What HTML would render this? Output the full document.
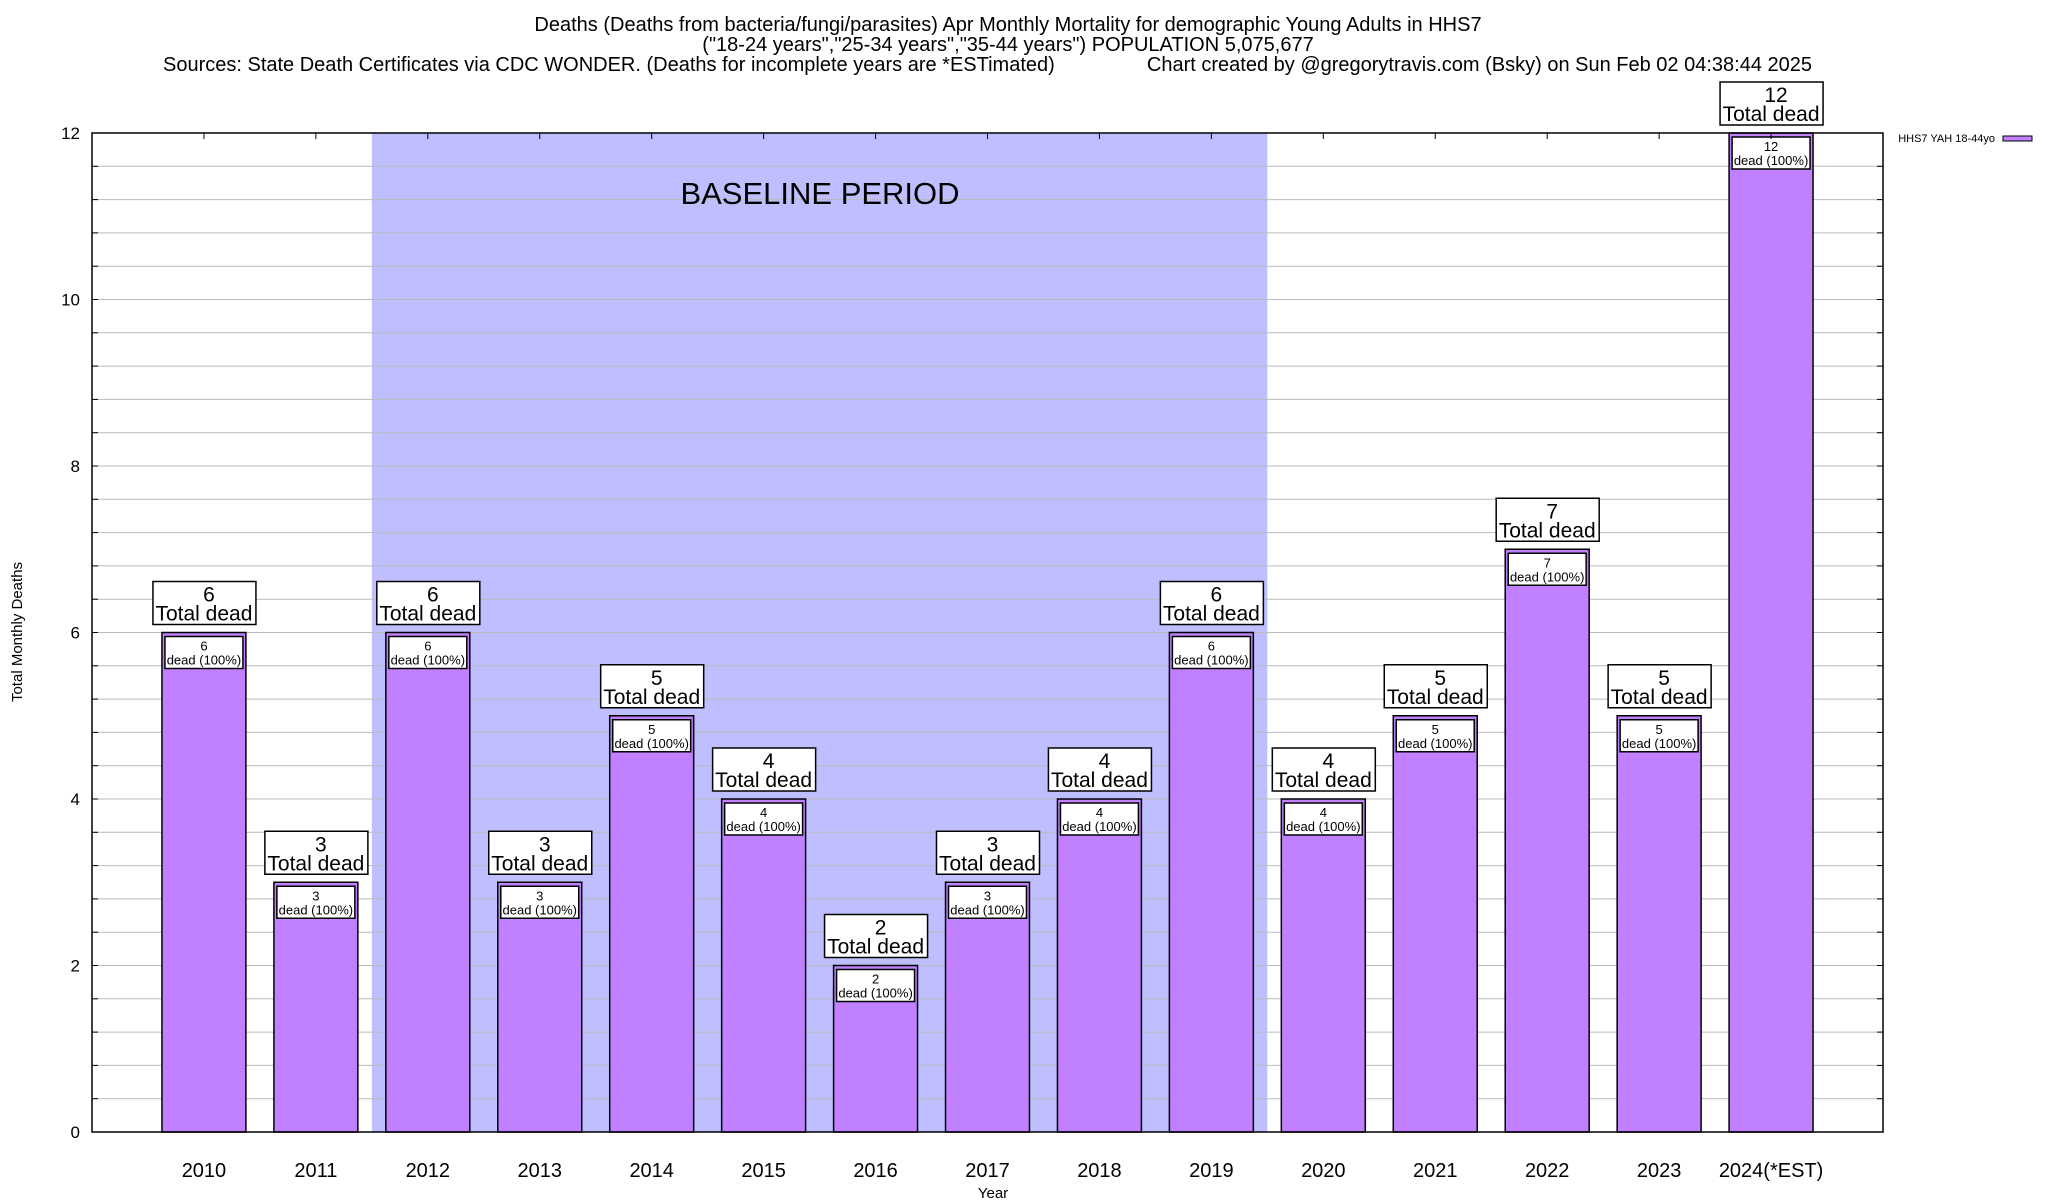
<!DOCTYPE html>
<html><head><meta charset="utf-8"><style>
body{margin:0;background:#fff;}
svg{display:block;font-family:"Liberation Sans",sans-serif;}
</style></head><body>
<svg id="chart" width="2048" height="1200" viewBox="0 0 2048 1200" xmlns="http://www.w3.org/2000/svg">
<g font-size="20" fill="#000">
<text x="1008" y="31" text-anchor="middle">Deaths (Deaths from bacteria/fungi/parasites) Apr Monthly Mortality for demographic Young Adults in HHS7</text>
<text x="1008" y="51" text-anchor="middle">("18-24 years","25-34 years","35-44 years") POPULATION 5,075,677</text>
<text x="163" y="71">Sources: State Death Certificates via CDC WONDER. (Deaths for incomplete years are *ESTimated)</text>
<text x="1812" y="71" text-anchor="end">Chart created by @gregorytravis.com (Bsky) on Sun Feb 02 04:38:44 2025</text>
</g>
<g id="plot"></g>
<text x="22" y="632" transform="rotate(-90 22 632)" text-anchor="middle" font-size="15">Total Monthly Deaths</text>
<text x="993" y="1198" text-anchor="middle" font-size="15">Year</text>
<g>
<text x="1995" y="142" text-anchor="end" font-size="11">HHS7 YAH 18-44yo</text>
<rect x="2003" y="136" width="29" height="5" fill="#c080ff" stroke="#000" stroke-width="1"/>
</g>
</svg>
<script>
const categories=["2010","2011","2012","2013","2014","2015","2016","2017","2018","2019","2020","2021","2022","2023","2024(*EST)"];
const deaths=[6,3,6,3,5,4,2,3,4,6,4,5,7,5,12];
const yTicks=[0,2,4,6,8,10,12];
const baselineStart=2, baselineEnd=9;
const NS="http://www.w3.org/2000/svg";
const L=92,R=1883,T=133,B=1132,YMAX=12;
const slot=(R-L)/(categories.length+1);
const xs=i=>L+slot*(i+1);
const ys=v=>B-(B-T)*v/YMAX;
const g=document.getElementById('plot');
function el(tag,attrs,parent){const e=document.createElementNS(NS,tag);for(const k in attrs)e.setAttribute(k,attrs[k]);(parent||g).appendChild(e);return e;}
const sh=el('rect',{x:xs(baselineStart)-slot/2,y:T,width:slot*(baselineEnd-baselineStart+1),height:B-T,fill:'#bfbfff'});


for(let v=0.4;v<YMAX-0.01;v+=0.4){
const gl=el('line',{x1:L,x2:R,y1:ys(v),y2:ys(v),stroke:'#bbb','stroke-width':1});


const t1=el('line',{x1:L,x2:L+6,y1:ys(v),y2:ys(v),stroke:'#000'});
const t2=el('line',{x1:R-6,x2:R,y1:ys(v),y2:ys(v),stroke:'#000'});
}
const bt=el('text',{x:820,y:204,'text-anchor':'middle','font-size':31});
bt.textContent='BASELINE PERIOD';


yTicks.forEach(v=>{
const t=el('text',{x:80,y:ys(v)+6,'text-anchor':'end','font-size':17});
t.textContent=v;


});
const bw=slot*0.75;
categories.forEach((c,i)=>{
const x=xs(i),v=deaths[i],y=ys(v);
const b=el('rect',{x:x-bw/2,y:y,width:bw,height:B-y,fill:'#c080ff',stroke:'#000','stroke-width':1.5});


const ib=el('rect',{x:x-bw/2+3,y:y+4,width:bw-6,height:32,fill:'#fff',stroke:'#000','stroke-width':1.5});


const it1=el('text',{x:x,y:y+18,'text-anchor':'middle','font-size':13});it1.textContent=v;


const it2=el('text',{x:x,y:y+32,'text-anchor':'middle','font-size':13});it2.textContent='dead (100%)';


const ob=el('rect',{x:x-51,y:y-51,width:103,height:43,fill:'#fff',stroke:'#000','stroke-width':1.5});


const ot1=el('text',{x:x+5,y:y-31,'text-anchor':'middle','font-size':21});ot1.textContent=v;


const ot2=el('text',{x:x,y:y-12,'text-anchor':'middle','font-size':21});ot2.textContent='Total dead';


const xt=el('text',{x:x,y:1177,'text-anchor':'middle','font-size':20});xt.textContent=c;


const tt=el('line',{x1:x,x2:x,y1:T,y2:T+6,stroke:'#000'});


});
const fr=el('rect',{x:L,y:T,width:R-L,height:B-T,fill:'none',stroke:'#000','stroke-width':1.5});


</script>
</body></html>
